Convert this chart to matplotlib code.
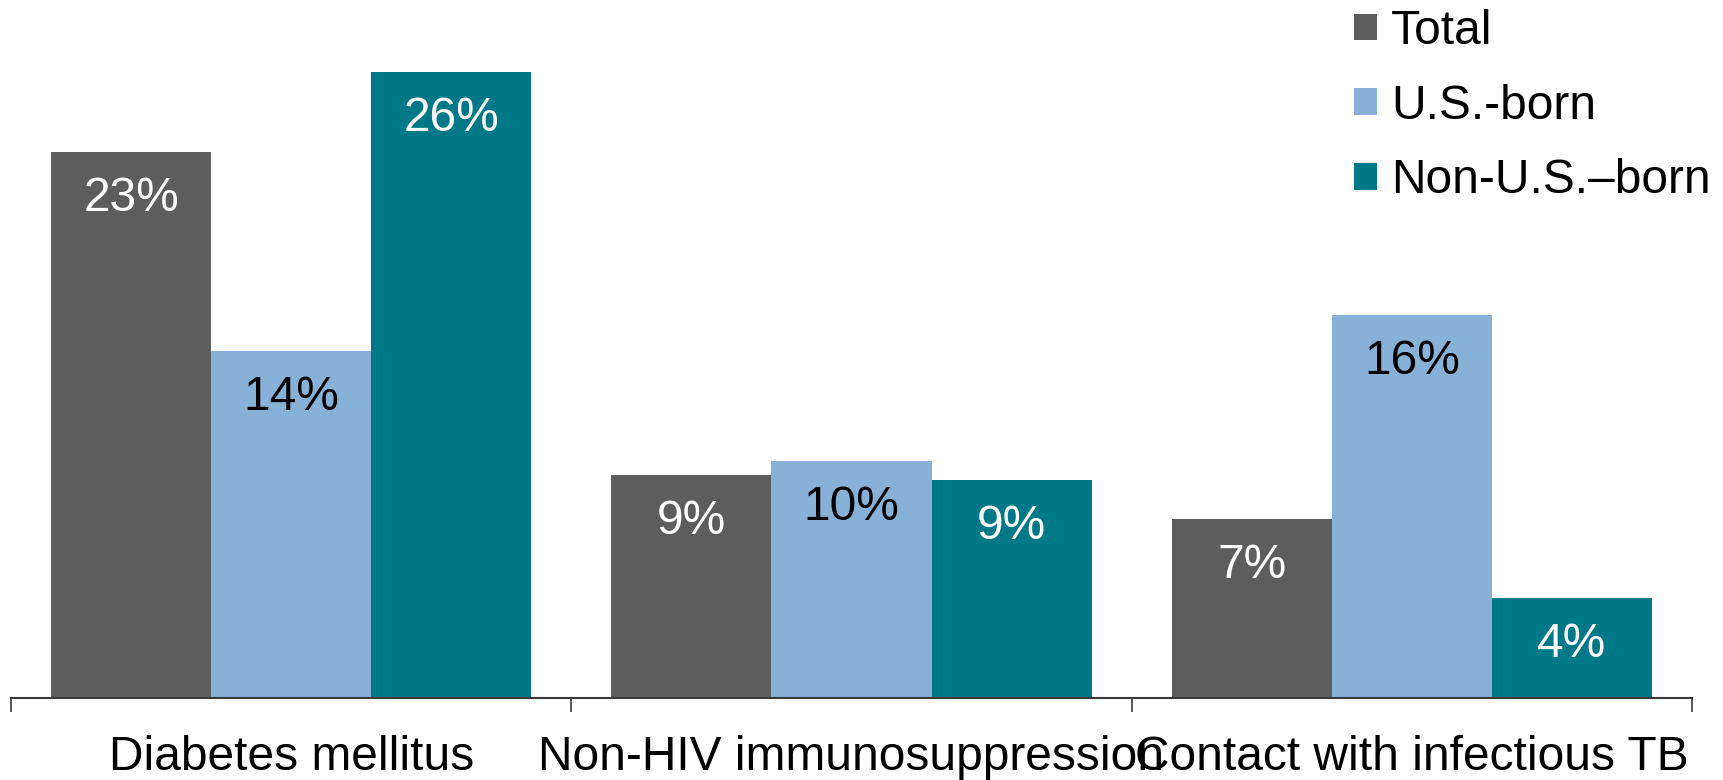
import matplotlib
matplotlib.use("Agg")
import matplotlib.pyplot as plt
from matplotlib.patches import Patch
import numpy as np

plt.rcParams["font.family"] = ["Liberation Sans", "DejaVu Sans"]

categories = ["Diabetes mellitus", "Non-HIV immunosuppression", "Contact with infectious TB"]
series = ["Total", "U.S.-born", "Non-U.S.\u2013born"]
total = [22.7, 9.25, 7.45]
us_born = [14.4, 9.85, 15.9]
non_us_born = [26.0, 9.05, 4.15]
labels_total = ["23%", "9%", "7%"]
labels_us = ["14%", "10%", "16%"]
labels_non_us = ["26%", "9%", "4%"]

colors = ["#5d5d5d", "#87b1d7", "#007888"]
text_colors = ["white", "black", "white"]

fig = plt.figure(figsize=(17.23, 7.8), dpi=100)
ax = fig.add_axes([11 / 1723, 82 / 780, 1681 / 1723, 674 / 780])

x = np.arange(len(categories))
w = 1 / 3.5
FS = 34.5

for i, (vals, labs) in enumerate([(total, labels_total),
                                  (us_born, labels_us),
                                  (non_us_born, labels_non_us)]):
    bars = ax.bar(x + (i - 1) * w, vals, width=w, color=colors[i], zorder=2)
    for b, lab in zip(bars, labs):
        ax.annotate(lab, (b.get_x() + b.get_width() / 2, b.get_height()),
                    xytext=(0, -33.5), textcoords="offset points",
                    ha="center", va="center", fontsize=FS, color=text_colors[i])

ax.set_xlim(-0.5, 2.5)
ax.set_ylim(0, 28)
ax.set_yticks([])
for s in ["top", "right", "left"]:
    ax.spines[s].set_visible(False)
ax.spines["bottom"].set_color("#3a3a3a")
ax.spines["bottom"].set_linewidth(1.5)

# boundary ticks between groups, labels centred on the groups
ax.set_xticks([-0.5, 0.5, 1.5, 2.5])
ax.set_xticklabels([])
ax.tick_params(axis="x", which="major", length=10, width=1.2, color="#3a3a3a", direction="out")
ax.set_xticks(x, minor=True)
ax.set_xticklabels(categories, minor=True, fontsize=FS)
ax.tick_params(axis="x", which="minor", length=0, pad=27)

handles = [Patch(facecolor=c, edgecolor="none") for c in colors]
fig.legend(handles, series, loc="upper left", bbox_to_anchor=(1354 / 1723, 1 - 9 / 780),
           frameon=False, fontsize=FS, handlelength=0.47, handleheight=0.47,
           handletextpad=0.3, labelspacing=0.62, borderpad=0, borderaxespad=0)

fig.savefig("out.png", dpi=100)
